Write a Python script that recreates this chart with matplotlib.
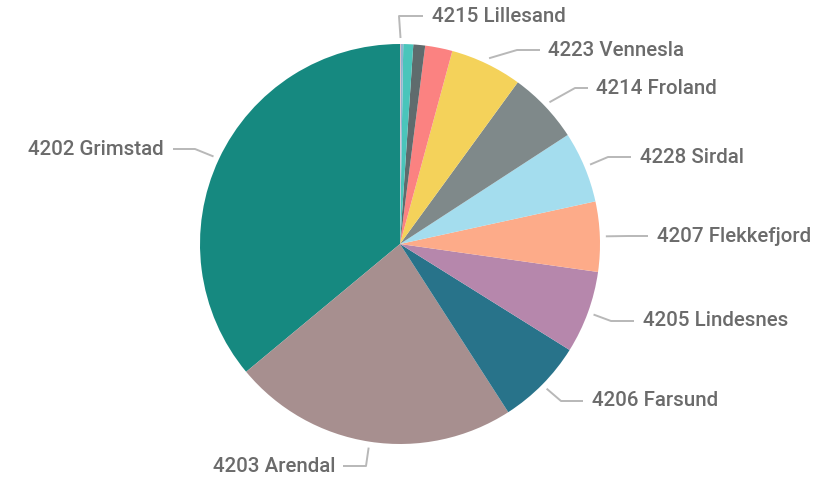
import numpy as np
import matplotlib
matplotlib.use('Agg')
import matplotlib.pyplot as plt

plt.rcParams['font.family'] = ['Roboto', 'DejaVu Sans']

# share per municipality (%), descending, drawn counter-clockwise from 12 o'clock
kommuner = ['4202 Grimstad', '4203 Arendal', '4206 Farsund', '4205 Lindesnes',
            '4207 Flekkefjord', '4228 Sirdal', '4214 Froland', '4223 Vennesla',
            '4225 Lyngdal', '4218 Iveland', '4224 Åseral', '4221 Valle',
            '4215 Lillesand']
andel = [36.0, 23.05, 7.0, 6.65, 5.65, 5.75, 5.8, 5.8, 2.2, 0.95, 0.8, 0.18, 0.08]
farger = ['#168980', '#A78F8F', '#28738A', '#B687AC', '#FDAB89', '#A4DDEE',
          '#7F898A', '#F4D25A', '#FB8281', '#5F6B6D', '#4AC5BB', '#8FB3D0',
          '#D8BBC8']
vis_etikett = ['4202 Grimstad', '4203 Arendal', '4206 Farsund', '4205 Lindesnes',
               '4207 Flekkefjord', '4228 Sirdal', '4214 Froland', '4223 Vennesla',
               '4215 Lillesand']

W, H = 833, 479
fig = plt.figure(figsize=(W / 100, H / 100), dpi=100)
ax = fig.add_axes([0, 0, 1, 1])

cx, cy, R = 400, H - 244, 200
wedges, _ = ax.pie(andel, colors=farger, startangle=90, counterclock=True,
                   center=(cx, cy), radius=R, wedgeprops=dict(linewidth=0))

# label layout: (elbow x, elbow y, line end x, text x, side) in pixel coords
oppsett = {
    '4215 Lillesand':   (399, 16, 423, 432, 'left'),
    '4223 Vennesla':    (517, 50, 540, 548, 'left'),
    '4214 Froland':     (575, 88, 588, 596, 'left'),
    '4228 Sirdal':      (608, 157, 631, 640, 'left'),
    '4207 Flekkefjord': (628, 236, 648, 657, 'left'),
    '4205 Lindesnes':   (611, 321, 634, 643, 'left'),
    '4206 Farsund':     (561, 401, 583, 592, 'left'),
    '4203 Arendal':     (366, 466, 343, 336, 'right'),
    '4202 Grimstad':    (195, 149, 173, 164, 'right'),
}

for w, navn in zip(wedges, kommuner):
    if navn not in vis_etikett:
        continue
    mid = np.deg2rad((w.theta1 + w.theta2) / 2)
    x0 = cx + R * 1.03 * np.cos(mid)
    y0 = cy + R * 1.03 * np.sin(mid)
    ex, ey, lx, tx, side = oppsett[navn]
    ey = H - ey
    ax.plot([x0, ex, lx], [y0, ey, ey], color='#b8b8b8', lw=1.4,
            solid_capstyle='butt', zorder=1)
    ax.text(tx, ey, navn, ha=side, va='center', fontsize=14.8,
            color='#6b6b6b', fontweight='medium')

ax.set_xlim(0, W)
ax.set_ylim(0, H)
ax.set_aspect('auto')
ax.axis('off')

fig.savefig('out.png', dpi=100, facecolor='white')
